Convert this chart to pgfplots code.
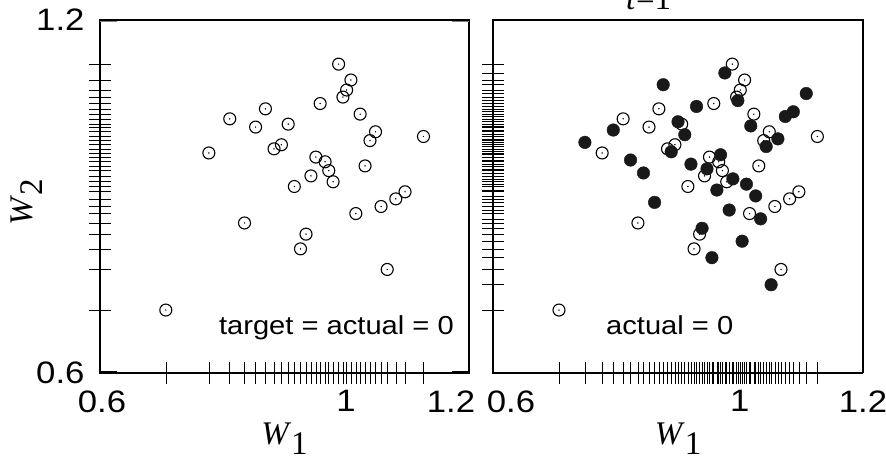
\documentclass[border=0pt]{standalone}
\usepackage{fontspec}
\setmainfont{Liberation Serif}
\newfontfamily\hv[FakeStretch=1.12]{Liberation Sans}
\usepackage{pgfplots}
\usepackage{pgfplotstable}
\pgfplotsset{compat=1.18}
\newcommand{\tickfont}{\hv\fontsize{31bp}{31bp}\selectfont}
\newcommand{\annfont}{\hv\fontsize{26bp}{26bp}\selectfont}
\newcommand{\labfont}{\rmfamily\fontsize{33bp}{33bp}\selectfont}

% open circles (present in both panels)
\pgfplotstableread{
x y
0.988 1.125
1.008 1.098
1.001 1.081
0.995 1.069
0.958 1.058
0.869 1.049
0.811 1.032
0.853 1.018
0.906 1.023
1.023 1.040
1.048 1.010
1.039 0.995
1.126 1.002
0.777 0.974
0.883 0.981
0.895 0.988
0.951 0.967
0.966 0.959
0.972 0.944
0.979 0.925
0.943 0.935
1.031 0.952
0.916 0.917
1.096 0.908
1.081 0.896
1.057 0.883
1.016 0.871
0.835 0.855
0.935 0.836
0.926 0.811
1.067 0.776
0.707 0.707
}\opendata

% filled circles (right panel)
\pgfplotstableread{
x y
0.976 1.110
0.876 1.090
1.108 1.075
0.930 1.053
0.997 1.063
1.087 1.044
1.074 1.036
0.900 1.027
1.018 1.020
0.795 1.013
0.911 1.005
1.062 0.998
0.749 0.992
1.043 0.985
0.889 0.976
0.969 0.971
0.823 0.962
0.921 0.955
0.947 0.947
0.844 0.940
0.989 0.930
1.011 0.921
0.963 0.911
1.026 0.901
0.862 0.890
0.983 0.877
1.034 0.862
0.939 0.846
1.004 0.824
0.955 0.796
1.051 0.750
}\filldata

\def\openX{0.988,1.008,1.001,0.995,0.958,0.869,0.811,0.853,0.906,1.023,1.048,1.039,1.126,0.777,0.883,0.895,0.951,0.966,0.972,0.979,0.943,1.031,0.916,1.096,1.081,1.057,1.016,0.835,0.935,0.926,1.067,0.707}
\def\openY{1.125,1.098,1.081,1.069,1.058,1.049,1.032,1.018,1.023,1.040,1.010,0.995,1.002,0.974,0.981,0.988,0.967,0.959,0.944,0.925,0.935,0.952,0.917,0.908,0.896,0.883,0.871,0.855,0.836,0.811,0.776,0.707}
\def\fillX{0.976,0.876,1.108,0.930,0.997,1.087,1.074,0.900,1.018,0.795,0.911,1.062,0.749,1.043,0.889,0.969,0.823,0.921,0.947,0.844,0.989,1.011,0.963,1.026,0.862,0.983,1.034,0.939,1.004,0.955,1.051}
\def\fillY{1.110,1.090,1.075,1.053,1.063,1.044,1.036,1.027,1.020,1.013,1.005,0.998,0.992,0.985,0.976,0.971,0.962,0.955,0.947,0.940,0.930,0.921,0.911,0.901,0.890,0.877,0.862,0.846,0.824,0.796,0.750}

\pgfplotsset{rugaxis/.style={
  scale only axis, height=353bp,
  xmin=0.6, xmax=1.2, ymin=0.6, ymax=1.2,
  axis line style={draw=none},
  tick align=center,
  xtick pos=bottom, ytick pos=left,
  major tick length=0pt,
  minor tick length=22bp,
  minor tick style={line width=0.6bp, black},
  tick label style={font=\tickfont},
  xtick={0.6,1,1.2},
  ytick={0.6,1.2},
  xticklabel style={yshift=-14bp},
  yticklabel style={xshift=-12bp},
  xlabel style={at={(axis description cs:0.5,0)}, anchor=base, yshift=-71bp, font=\labfont},
  clip=false,
}}

\begin{document}
\begin{tikzpicture}
% left panel
\begin{axis}[rugaxis, at={(100bp,85bp)}, anchor=south west, width=369bp,
  minor xtick/.expand once={\openX},
  minor ytick/.expand once={\openY},
  xticklabels={{\makebox[0pt]{\hspace*{4bp}0.6}},1,{\makebox[0pt]{\hspace*{-36bp}1.2}}},
  yticklabels={0.6,1.2},
  xlabel={\textit{W}\raisebox{-10bp}{1}},
  ylabel={\textit{W}\raisebox{-10bp}{2}},
  ylabel style={at={(axis description cs:-0.182,0.484)}, anchor=base, font=\labfont},
]
\addplot[only marks, mark=o, mark size=6bp, mark options={line width=1.1bp, black}] table[x=x,y=y]{\opendata};
\addplot[only marks, mark=*, mark size=0.45bp, black] table[x=x,y=y]{\opendata};
\draw[line width=2.8bp, line join=miter] (rel axis cs:0,0) rectangle (rel axis cs:1,1);
\draw[line width=2bp] ([yshift=1bp]rel axis cs:0,0) -- ([xshift=17bp,yshift=1bp]rel axis cs:0,0);
\draw[line width=2bp] ([yshift=1bp]rel axis cs:1,0) -- ([xshift=-17bp,yshift=1bp]rel axis cs:1,0);
\draw[line width=1bp, gray] ([yshift=-1.8bp]rel axis cs:0,1) -- ([xshift=17bp,yshift=-1.8bp]rel axis cs:0,1);
\draw[line width=1bp, gray] ([yshift=-1.8bp]rel axis cs:1,1) -- ([xshift=-17bp,yshift=-1.8bp]rel axis cs:1,1);
\node[anchor=base east, inner sep=0pt, font=\annfont] at (axis cs:1.1756,0.6646) {target = actual = 0};
\end{axis}
% right panel
\begin{axis}[rugaxis, at={(493bp,85bp)}, anchor=south west, width=370bp,
  minor xtick/.expand once={\openX,\fillX},
  minor ytick/.expand once={\openY,\fillY},
  xticklabels={{\makebox[0pt]{\hspace*{36bp}0.6}},1,1.2},
  yticklabels={},
  xlabel={\textit{W}\raisebox{-10bp}{1}},
]
\addplot[only marks, mark=o, mark size=6bp, mark options={line width=1.1bp, black}] table[x=x,y=y]{\opendata};
\addplot[only marks, mark=*, mark size=0.45bp, black] table[x=x,y=y]{\opendata};
\addplot[only marks, mark=*, mark size=6.3bp, mark options={fill=black!90, draw=black!90}] table[x=x,y=y]{\filldata};
\draw[line width=2.8bp, line join=miter] (rel axis cs:1,0) -- (rel axis cs:1,1) -- (rel axis cs:0,1);
\draw[line width=2.8bp] ([xshift=-1.4bp]rel axis cs:0,0) -- (rel axis cs:1,0);
\draw[line width=1.8bp] (rel axis cs:0,0) -- ([yshift=1.4bp]rel axis cs:0,1);
\node[anchor=base west, inner sep=0pt, font=\annfont] at (axis cs:0.7832,0.6646) {actual = 0};
\end{axis}
\node[anchor=base west, inner sep=0pt, font=\labfont] at (626bp,448bp) {\textit{t}=1};
\pgfresetboundingbox
\path[use as bounding box] (0,0) rectangle (886bp,458bp);
\end{tikzpicture}
\end{document}
